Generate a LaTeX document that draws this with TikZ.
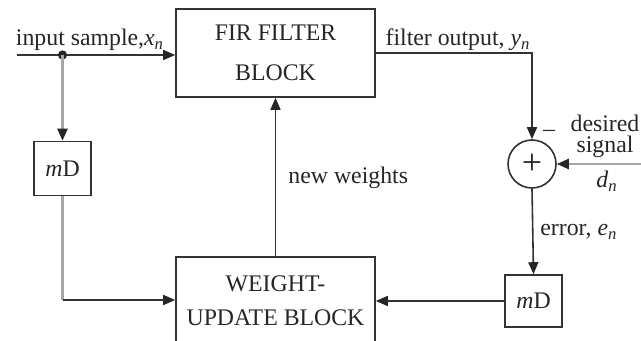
\documentclass[tikz,border=0pt]{standalone}
\usepackage{fontspec}
\setmainfont{Liberation Serif}
\usetikzlibrary{arrows.meta}
\newcommand{\sig}[2]{\textit{#1}\textsubscript{\textit{#2}}}

\begin{document}
\begin{tikzpicture}[x=0.5pt,y=-0.5pt,
    every node/.style={font=\fontsize{11.9}{13}\selectfont,text=black!85},
    block/.style={draw=black!80,line width=0.8pt,minimum width=99.5pt,minimum height=44pt,align=center,inner sep=0pt},
    delay/.style={draw=black!80,line width=0.8pt,minimum width=28.5pt,minimum height=27pt,inner sep=0pt},
    wire/.style={draw=black!80,line width=0.8pt},
    grey/.style={draw=black!35,line width=1.2pt},
    tip/.style={-{Triangle[length=6pt,width=5pt,color=black!85]}}]
      \useasboundingbox (0,0) rectangle (641,341);

      \node[block,font=\fontsize{11.9}{20}\selectfont] (fir) at (275.5,53) {FIR FILTER\\BLOCK};
      \node[block,font=\fontsize{11.9}{17}\selectfont] (wu) at (275.5,301) {WEIGHT-\\UPDATE BLOCK};
      \node[delay] (mdl) at (62.5,168.5) {\textit{m}D};
      \node[delay,minimum height=26pt] (mdr) at (533.5,301) {\textit{m}D};
      \node[draw=black!80,line width=0.8pt,circle,minimum size=24pt,inner sep=0pt,font=\fontsize{18}{18}\selectfont] (sum) at (532,164) {+};

      \coordinate (in) at (17,55);
      \coordinate (tap) at (62.5,55);
      \coordinate (ds) at (641,164);
      \coordinate (bend) at (62.5,300);

      \draw[wire,tip] (in) -- (in -| fir.west);
      \fill[black!85] (tap) circle (2.3pt);
      \draw[grey,tip] (tap) -- (mdl.north);
      \draw[grey] (mdl.south) -- (bend);
      \draw[wire,tip] (bend) -- (bend -| wu.west);
      \draw[wire,tip] (wu.north) -- (fir.south);
      \draw[wire,tip] (fir.east) -| (sum.north);
      \draw[grey,tip] (ds) -- (sum.east);
      \draw[wire,tip] (sum.south) -- (mdr.north);
      \draw[wire,tip] (mdr.west) -- (wu.east);

      \node (lin) at (90,40) {input sample,\sig{x}{n}};
      \node (lfo) at (458,40) {filter output, \sig{y}{n}};
      \node[anchor=west,inner sep=0pt] (lnw) at (288,178) {new weights};
      \node[anchor=west,inner sep=0pt] (ler) at (540,232) {error, \sig{e}{n}};
      \node[align=center,inner sep=0pt,font=\fontsize{11.9}{10.5}\selectfont] (lds) at (605,136) {desired\\signal};
      \node (ldn) at (607,181) {\sig{d}{n}};
      \node (lmin) at (549,133) {--};
\end{tikzpicture}
\end{document}
